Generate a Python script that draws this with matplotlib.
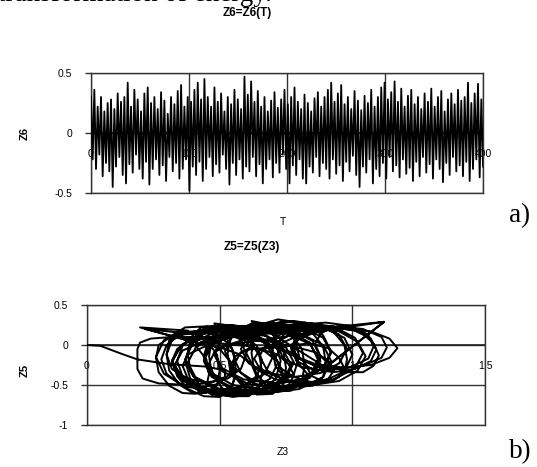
"""
Z6(T) time history and Z5(Z3) phase portrait, Excel-style figure.
"""
import matplotlib
matplotlib.use("Agg")
import matplotlib.pyplot as plt
import numpy as np
from matplotlib.transforms import offset_copy

# --- a) Z6 = Z6(T): successive maxima / minima of the oscillation ---
z6_peaks = [
    0.30, 0.36, 0.22, 0.30, 0.18, 0.25, 0.28, 0.20, 0.33, 0.26,
    0.30, 0.42, 0.22, 0.36, 0.28, 0.18, 0.33, 0.38, 0.25, 0.30,
    0.20, 0.34, 0.27, 0.16, 0.30, 0.24, 0.35, 0.40, 0.22, 0.30,
    0.26, 0.36, 0.42, 0.28, 0.45, 0.30, 0.22, 0.38, 0.26, 0.33,
    0.18, 0.30, 0.24, 0.36, 0.28, 0.20, 0.47, 0.32, 0.43, 0.26,
    0.35, 0.22, 0.30, 0.18, 0.27, 0.34, 0.21, 0.28, 0.36, 0.24,
    0.30, 0.38, 0.26, 0.20, 0.32, 0.25, 0.18, 0.29, 0.34, 0.22,
    0.30, 0.36, 0.42, 0.26, 0.33, 0.40, 0.24, 0.30, 0.20, 0.35,
    0.27, 0.19, 0.31, 0.25, 0.36, 0.22, 0.30, 0.38, 0.42, 0.28,
    0.34, 0.43, 0.26, 0.37, 0.22, 0.31, 0.36, 0.24, 0.30, 0.20,
    0.33, 0.26, 0.37, 0.22, 0.30, 0.35, 0.18, 0.28, 0.33, 0.24,
    0.36, 0.27, 0.30, 0.42, 0.25, 0.33, 0.41, 0.28,
]
z6_troughs = [
    -0.22, -0.30, -0.18, -0.36, -0.25, -0.32, -0.45, -0.28, -0.20, -0.35,
    -0.42, -0.26, -0.33, -0.18, -0.30, -0.38, -0.24, -0.43, -0.30, -0.22,
    -0.35, -0.27, -0.40, -0.20, -0.32, -0.25, -0.38, -0.30, -0.22, -0.48,
    -0.28, -0.35, -0.24, -0.40, -0.30, -0.20, -0.36, -0.26, -0.33, -0.18,
    -0.30, -0.43, -0.25, -0.35, -0.22, -0.38, -0.28, -0.32, -0.20, -0.36,
    -0.26, -0.42, -0.30, -0.22, -0.37, -0.25, -0.33, -0.18, -0.30, -0.42,
    -0.27, -0.35, -0.22, -0.38, -0.42, -0.28, -0.33, -0.20, -0.36, -0.25,
    -0.30, -0.38, -0.22, -0.34, -0.27, -0.40, -0.24, -0.32, -0.19, -0.35,
    -0.45, -0.28, -0.33, -0.22, -0.42, -0.30, -0.36, -0.25, -0.38, -0.20,
    -0.32, -0.27, -0.37, -0.22, -0.34, -0.29, -0.40, -0.24, -0.36, -0.20,
    -0.33, -0.26, -0.38, -0.22, -0.30, -0.41, -0.25, -0.35, -0.20, -0.32,
    -0.27, -0.36, -0.24, -0.40, -0.30, -0.22, -0.37, -0.28,
]
t_ticks = [0, 100, 200, 300, 400]
z6_ticks = [0.5, 0, -0.5]
z6_ticklabels = ["0.5", "0", "-0.5"]

# --- b) Z5 = Z5(Z3): phase trajectory, one loop per line ---
z3 = [
    0.00, 0.05, 0.13, 0.19, 0.31, 0.45, 0.52, 0.52, 0.47, 0.38, 0.27, 0.21, 0.19, 0.19, 0.20, 0.24, 0.32, 0.42, 0.50,
    0.48, 0.59, 0.67, 0.70, 0.67, 0.59, 0.48, 0.37, 0.29, 0.26, 0.29, 0.37,
    0.55, 0.64, 0.71, 0.73, 0.71, 0.64, 0.55, 0.46, 0.39, 0.37, 0.39, 0.46,
    0.45, 0.53, 0.58, 0.60, 0.58, 0.53, 0.45, 0.38, 0.32, 0.30, 0.32, 0.38, 0.20, 0.42,
    0.62, 0.75, 0.84, 0.87, 0.84, 0.75, 0.62, 0.50, 0.40, 0.37, 0.40, 0.50,
    0.70, 0.81, 0.89, 0.92, 0.89, 0.81, 0.70, 0.59, 0.51, 0.48, 0.51, 0.59,
    0.52, 0.62, 0.69, 0.72, 0.69, 0.62, 0.52, 0.42, 0.35, 0.32, 0.35, 0.42,
    0.78, 0.88, 0.95, 0.98, 0.95, 0.88, 0.78, 0.68, 0.61, 0.58, 0.61, 0.68,
    0.60, 0.74, 0.84, 0.88, 0.84, 0.74, 0.60, 0.46, 0.36, 0.32, 0.36, 0.46,
    0.90, 0.99, 1.06, 1.08, 1.06, 0.99, 0.90, 0.81, 0.74, 0.72, 0.74, 0.81,
    0.66, 0.77, 0.85, 0.88, 0.85, 0.77, 0.66, 0.55, 0.47, 0.44, 0.47, 0.55,
    0.50, 0.58, 0.64, 0.66, 0.64, 0.58, 0.50, 0.42, 0.36, 0.34, 0.36, 0.42, 0.22, 0.45,
    0.74, 0.87, 0.97, 1.00, 0.97, 0.87, 0.74, 0.61, 0.51, 0.48, 0.51, 0.61,
    0.95, 1.04, 1.11, 1.13, 1.11, 1.04, 0.95, 0.86, 0.79, 0.77, 0.79, 0.86, 1.12, 0.89,
    0.58, 0.68, 0.75, 0.78, 0.75, 0.68, 0.58, 0.48, 0.41, 0.38, 0.41, 0.48,
    0.82, 0.93, 1.01, 1.04, 1.01, 0.93, 0.82, 0.71, 0.63, 0.60, 0.63, 0.71,
    0.42, 0.49, 0.54, 0.56, 0.54, 0.49, 0.42, 0.35, 0.30, 0.28, 0.30, 0.35,
    0.68, 0.80, 0.89, 0.92, 0.89, 0.80, 0.68, 0.56, 0.47, 0.44, 0.47, 0.56,
    0.97, 1.07, 1.14, 1.17, 1.14, 1.07, 0.97, 0.87, 0.80, 0.77, 0.80, 0.87, 1.12, 0.90,
    0.62, 0.71, 0.78, 0.80, 0.78, 0.71, 0.62, 0.53, 0.46, 0.44, 0.46, 0.53,
    0.85, 0.95, 1.02, 1.05, 1.02, 0.95, 0.85, 0.75, 0.68, 0.65, 0.68, 0.75,
    0.55, 0.66, 0.74, 0.77, 0.74, 0.66, 0.55, 0.44, 0.36, 0.33, 0.36, 0.44,
    0.72, 0.82, 0.89, 0.92, 0.89, 0.82, 0.72, 0.62, 0.55, 0.52, 0.55, 0.62,
    0.93, 1.01, 1.07, 1.09, 1.07, 1.01, 0.93, 0.85, 0.79, 0.77, 0.79, 0.85,
    0.36, 0.41, 0.45, 0.46, 0.45, 0.41, 0.36, 0.31, 0.27, 0.26, 0.27, 0.31,
    0.47, 0.52, 0.55, 0.56, 0.55, 0.52, 0.47, 0.43, 0.39, 0.38, 0.39, 0.43,
    0.72, 0.77, 0.81, 0.82, 0.81, 0.77, 0.72, 0.67, 0.63, 0.62, 0.63, 0.67,
    0.60, 0.67, 0.72, 0.74, 0.72, 0.67, 0.60, 0.53, 0.48, 0.46, 0.48, 0.53,
    0.98, 1.04, 1.08, 1.10, 1.08, 1.04, 0.98, 0.92, 0.88, 0.86, 0.88, 0.92,
    0.40, 0.45, 0.49, 0.50, 0.49, 0.45, 0.40, 0.35, 0.31, 0.30, 0.31, 0.35,
    0.64, 0.70, 0.74, 0.75, 0.74, 0.70, 0.64, 0.59, 0.54, 0.53, 0.54, 0.59,
    0.70, 0.77, 0.82, 0.84, 0.82, 0.77, 0.70, 0.63, 0.58, 0.56, 0.58, 0.63,
    0.44, 0.50, 0.54, 0.56, 0.54, 0.50, 0.44, 0.38, 0.34, 0.32, 0.34, 0.38,
    0.80, 0.85, 0.89, 0.90, 0.89, 0.85, 0.80, 0.75, 0.71, 0.70, 0.71, 0.75,
    0.50, 0.57, 0.62, 0.64, 0.62, 0.57, 0.50, 0.43, 0.38, 0.36, 0.38, 0.43,
    0.56, 0.61, 0.65, 0.66, 0.65, 0.61, 0.56, 0.51, 0.47, 0.46, 0.47, 0.51,
    0.78, 0.86, 0.91, 0.93, 0.91, 0.86, 0.78, 0.71, 0.65, 0.63, 0.65, 0.71,
    0.88, 0.93, 0.97, 0.98, 0.97, 0.93, 0.88, 0.83, 0.79, 0.78, 0.79, 0.83,
    0.66, 0.72, 0.76, 0.78, 0.76, 0.72, 0.66, 0.60, 0.56, 0.54, 0.56, 0.60,
    0.84, 0.91, 0.95, 0.97, 0.95, 0.91, 0.84, 0.78, 0.73, 0.71, 0.73, 0.78,
]
z5 = [
    0.00, -0.01, -0.11, -0.18, -0.24, -0.27, -0.32, -0.40, -0.47, -0.50, -0.48, -0.42, -0.30, -0.05, 0.03, 0.08, 0.10, 0.10, 0.05,
    0.27, 0.22, 0.06, -0.15, -0.36, -0.52, -0.57, -0.52, -0.36, -0.15, 0.06, 0.22,
    0.25, 0.19, 0.03, -0.20, -0.43, -0.59, -0.65, -0.59, -0.43, -0.20, 0.03, 0.19,
    0.23, 0.18, 0.06, -0.12, -0.30, -0.42, -0.47, -0.42, -0.30, -0.12, 0.06, 0.18, 0.22, 0.02,
    0.24, 0.19, 0.03, -0.18, -0.39, -0.55, -0.60, -0.55, -0.39, -0.18, 0.03, 0.19,
    0.28, 0.23, 0.09, -0.10, -0.29, -0.43, -0.48, -0.43, -0.29, -0.10, 0.09, 0.23,
    0.18, 0.13, -0.02, -0.22, -0.42, -0.57, -0.62, -0.57, -0.42, -0.22, -0.02, 0.13,
    0.30, 0.25, 0.13, -0.05, -0.23, -0.35, -0.40, -0.35, -0.23, -0.05, 0.13, 0.25,
    0.22, 0.17, 0.01, -0.20, -0.41, -0.57, -0.62, -0.57, -0.41, -0.20, 0.01, 0.17,
    0.28, 0.24, 0.13, -0.02, -0.17, -0.28, -0.32, -0.28, -0.17, -0.02, 0.13, 0.24,
    0.25, 0.20, 0.05, -0.15, -0.35, -0.50, -0.55, -0.50, -0.35, -0.15, 0.05, 0.20,
    0.18, 0.13, -0.01, -0.20, -0.39, -0.53, -0.58, -0.53, -0.39, -0.20, -0.01, 0.13, 0.20, 0.00,
    0.30, 0.25, 0.09, -0.12, -0.33, -0.49, -0.54, -0.49, -0.33, -0.12, 0.09, 0.25,
    0.23, 0.20, 0.10, -0.03, -0.16, -0.26, -0.29, -0.26, -0.16, -0.03, 0.10, 0.20, 0.29, -0.30,
    0.16, 0.11, -0.03, -0.22, -0.41, -0.55, -0.60, -0.55, -0.41, -0.22, -0.03, 0.11,
    0.28, 0.23, 0.09, -0.10, -0.29, -0.43, -0.48, -0.43, -0.29, -0.10, 0.09, 0.23,
    0.18, 0.13, 0.00, -0.18, -0.36, -0.49, -0.54, -0.49, -0.36, -0.18, 0.00, 0.13,
    0.20, 0.15, 0.00, -0.20, -0.40, -0.55, -0.60, -0.55, -0.40, -0.20, 0.00, 0.15,
    0.20, 0.17, 0.08, -0.04, -0.16, -0.25, -0.28, -0.25, -0.16, -0.04, 0.08, 0.17, 0.29, -0.28,
    0.30, 0.24, 0.08, -0.14, -0.36, -0.52, -0.58, -0.52, -0.36, -0.14, 0.08, 0.24,
    0.22, 0.17, 0.04, -0.14, -0.32, -0.45, -0.50, -0.45, -0.32, -0.14, 0.04, 0.17,
    0.10, 0.05, -0.07, -0.25, -0.43, -0.55, -0.60, -0.55, -0.43, -0.25, -0.07, 0.05,
    0.32, 0.27, 0.12, -0.08, -0.28, -0.43, -0.48, -0.43, -0.28, -0.08, 0.12, 0.27,
    0.22, 0.18, 0.08, -0.06, -0.20, -0.30, -0.34, -0.30, -0.20, -0.06, 0.08, 0.18,
    0.08, -0.01, -0.18, -0.36, -0.52, -0.61, -0.60, -0.51, -0.34, -0.16, 0.00, 0.09,
    0.22, 0.13, -0.07, -0.29, -0.49, -0.62, -0.62, -0.53, -0.33, -0.11, 0.09, 0.22,
    0.22, 0.13, -0.05, -0.26, -0.45, -0.57, -0.58, -0.49, -0.31, -0.10, 0.09, 0.21,
    0.00, -0.08, -0.21, -0.37, -0.51, -0.60, -0.60, -0.53, -0.39, -0.23, -0.09, 0.00,
    0.22, 0.14, 0.02, -0.13, -0.26, -0.34, -0.34, -0.26, -0.14, 0.01, 0.14, 0.22,
    0.16, 0.06, -0.12, -0.32, -0.50, -0.60, -0.60, -0.50, -0.32, -0.12, 0.06, 0.16,
    0.22, 0.13, -0.07, -0.29, -0.49, -0.61, -0.62, -0.53, -0.33, -0.11, 0.09, 0.21,
    -0.02, -0.09, -0.21, -0.35, -0.47, -0.55, -0.54, -0.48, -0.35, -0.21, -0.09, -0.02,
    0.04, -0.05, -0.21, -0.40, -0.55, -0.65, -0.64, -0.55, -0.39, -0.20, -0.05, 0.05,
    0.24, 0.15, -0.02, -0.22, -0.40, -0.51, -0.52, -0.43, -0.26, -0.06, 0.12, 0.23,
    -0.03, -0.11, -0.24, -0.40, -0.54, -0.63, -0.63, -0.56, -0.42, -0.26, -0.12, -0.04,
    0.16, 0.06, -0.13, -0.34, -0.53, -0.64, -0.64, -0.54, -0.35, -0.14, 0.05, 0.16,
    -0.02, -0.09, -0.20, -0.32, -0.42, -0.47, -0.46, -0.39, -0.29, -0.17, -0.07, -0.01,
    0.24, 0.16, 0.00, -0.18, -0.34, -0.44, -0.44, -0.36, -0.20, -0.02, 0.14, 0.24,
    -0.06, -0.12, -0.24, -0.38, -0.50, -0.58, -0.58, -0.52, -0.40, -0.26, -0.14, -0.06,
    0.02, -0.04, -0.16, -0.29, -0.40, -0.46, -0.46, -0.40, -0.29, -0.16, -0.05, 0.02,
]
z3_ticks = [0, 0.5, 1.0, 1.5]
z3_ticklabels = ["0", "0.5", "1", "1.5"]
z5_ticks = [0.5, 0, -0.5, -1]
z5_ticklabels = ["0.5", "0", "-0.5", "-1"]

W, H, DPI = 537, 467, 100
SANS = "Liberation Sans"
SERIF = "Liberation Serif"


def frac(px_left, px_top, px_right, px_bottom):
    return [px_left / W, 1 - px_bottom / H, (px_right - px_left) / W, (px_bottom - px_top) / H]


def style_axes(ax, xticks, xlabels, yticks, ylabels):
    for s in ax.spines.values():
        s.set_color("#333333")
        s.set_linewidth(1.0)
    ax.set_xticks(xticks)
    ax.set_xticklabels([])
    ax.tick_params(axis="x", length=0)
    ax.set_yticks(yticks)
    ax.set_yticklabels(ylabels, fontsize=7.5, family=SANS)
    ax.tick_params(axis="y", length=4.5, width=1.0, color="#333333", pad=9)
    ax.grid(True, color="#333333", linewidth=1.0)
    ax.set_axisbelow(True)
    ax.axhline(0, color="#222222", linewidth=1.2, zorder=1)
    # category labels sit under the zero axis, behind the curve
    trans = offset_copy(ax.transData, fig=ax.figure, x=0, y=-21, units="dots")
    for x, lab in zip(xticks, xlabels):
        ax.text(x, 0, lab, transform=trans, ha="center", va="center",
                fontsize=7.5, family=SANS, zorder=1)


fig = plt.figure(figsize=(W / DPI, H / DPI), dpi=DPI)
fig.patch.set_facecolor("white")

fig.text(-2 / W, 1 - 1 / H, "transformation of energy.", family=SERIF,
         fontsize=19.5, va="baseline", ha="left")

# a)
ax1 = fig.add_axes(frac(91, 73, 483, 193))
z6 = np.column_stack((z6_peaks, z6_troughs)).ravel()
t = np.linspace(0, 400, len(z6))
ax1.plot(t, z6, color="black", linewidth=1.3, zorder=3)
ax1.set_xlim(0, 400)
ax1.set_ylim(-0.5, 0.5)
style_axes(ax1, t_ticks, [str(v) for v in t_ticks], z6_ticks, z6_ticklabels)

fig.text(247 / W, 1 - 13 / H, "Z6=Z6(T)", ha="center", va="center",
         fontsize=8.5, fontweight="bold", family=SANS)
fig.text(25 / W, 1 - 134 / H, "Z6", ha="center", va="center", rotation=90,
         fontsize=8, fontweight="bold", family=SANS)
fig.text(283 / W, 1 - 222 / H, "T", ha="center", va="center",
         fontsize=7.5, family=SANS)
fig.text(520 / W, 1 - 216 / H, "a)", ha="center", va="center",
         fontsize=19.5, family=SERIF)

# b)
ax2 = fig.add_axes(frac(87, 305, 485, 425))
ax2.plot(z3, z5, color="black", linewidth=1.4, zorder=3)
ax2.set_xlim(0, 1.5)
ax2.set_ylim(-1, 0.5)
style_axes(ax2, z3_ticks, z3_ticklabels, z5_ticks, z5_ticklabels)

fig.text(252 / W, 1 - 247 / H, "Z5=Z5(Z3)", ha="center", va="center",
         fontsize=8.5, fontweight="bold", family=SANS)
fig.text(25 / W, 1 - 370 / H, "Z5", ha="center", va="center", rotation=90,
         fontsize=8, fontweight="bold", family=SANS)
fig.text(283 / W, 1 - 452 / H, "Z3", ha="center", va="center",
         fontsize=7.5, family=SANS)
fig.text(520 / W, 1 - 452 / H, "b)", ha="center", va="center",
         fontsize=19.5, family=SERIF)

fig.savefig("out.png", dpi=DPI, facecolor="white")
